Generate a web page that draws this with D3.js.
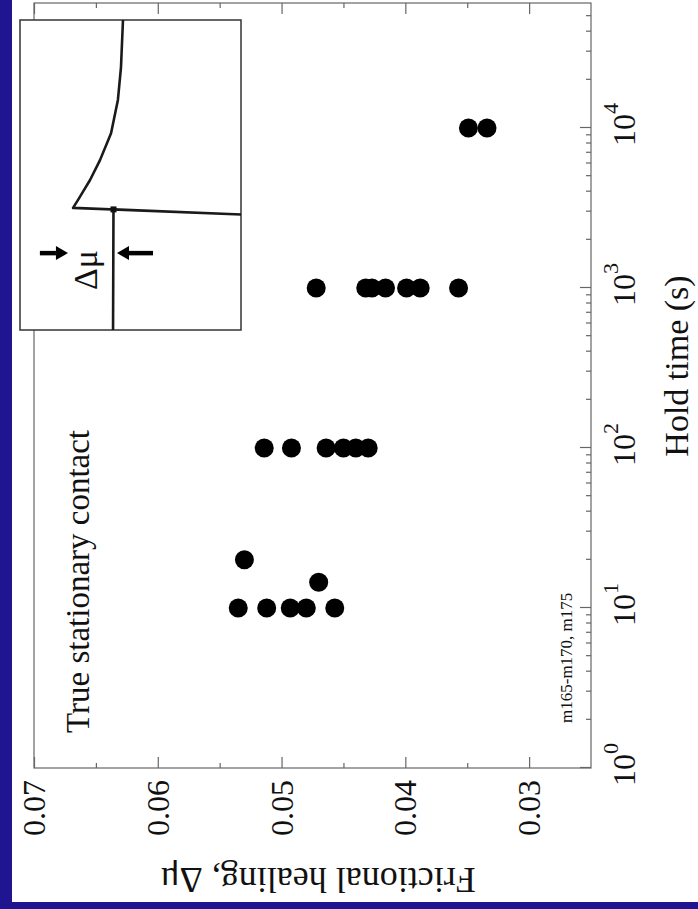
<!DOCTYPE html>
<html>
<head>
<meta charset="utf-8">
<script src="https://cdn.jsdelivr.net/npm/d3@7"></script>
<style>
  html, body { margin: 0; padding: 0; background: #fff; }
  svg { display: block; }
  svg text { font-family: "Liberation Serif", "Times New Roman", serif !important; fill: #111; }
</style>
</head>
<body>
<svg id="chart" width="698" height="909"></svg>
<script>
// Frictional healing after each hold (slide-hold-slide tests)
const holdTime = [10, 10, 10, 10, 10, 20, 14.5,
  100, 100, 100, 100, 100, 100,
  1000, 1000, 1000, 1000, 1000, 1000, 1000,
  10000, 10000];
const healing = [0.0535, 0.0512, 0.0493, 0.0480, 0.0457, 0.0530, 0.0470,
  0.0514, 0.0492, 0.0464, 0.0450, 0.0440, 0.0430,
  0.0472, 0.0432, 0.0427, 0.0416, 0.0399, 0.0388, 0.0357,
  0.0349, 0.0334];

const timeDecades = [1, 10, 100, 1000, 10000];
const decadeExponents = ["0", "1", "2", "3", "4"];
const healingTicks = [0.03, 0.04, 0.05, 0.06, 0.07];
const healingTickLabels = ["0.03", "0.04", "0.05", "0.06", "0.07"];
const healingMinorTicks = [0.035, 0.045, 0.055, 0.065];

// Inset: friction record through one hold (arbitrary units, 0-100)
const insetTime =     [0,    38.9, 37.2, 39.4, 41.9, 45.2, 48.4, 54.8, 63.5, 74.2, 84.8, 100];
const insetFriction = [57.9, 57.7, -2,   76.0, 73.8, 71.0, 68.3, 63.8, 58.8, 55.7, 54.3, 53.4];

const W = 698, H = 909;
const serif = '"Liberation Serif", "Times New Roman", serif';
const svg = d3.select("#chart");

// slide background edges
svg.append("rect").attr("x", 0).attr("y", 0).attr("width", 12).attr("height", H).attr("fill", "#1f1590");
svg.append("rect").attr("x", 0).attr("y", 902).attr("width", W).attr("height", 7).attr("fill", "#1f1590");

// The figure is laid out in its own frame and turned a quarter turn counter-clockwise
const g = svg.append("g").attr("transform", `translate(0,${H}) rotate(-90)`);

const pLeft = 141, pRight = 906, pTop = 34, pBottom = 591;
const x = d3.scaleLog().domain([1, 6e4]).range([pLeft, pLeft + 160 * Math.log10(6e4)]);
const y = d3.scaleLinear().domain([0.025, 0.07]).range([pBottom, pTop]);

const axisColor = "#666";

// frame
g.append("rect")
  .attr("x", pLeft).attr("y", pTop)
  .attr("width", pRight - pLeft).attr("height", pBottom - pTop)
  .attr("fill", "none").attr("stroke", axisColor).attr("stroke-width", 1.2);

// minor log ticks
const minorTimes = [];
for (let e = 0; e <= 4; e++) for (let m = 2; m <= 9; m++) {
  const v = m * Math.pow(10, e);
  if (v < 6e4) minorTimes.push(v);
}

const xAxis = g.append("g").attr("transform", `translate(0,${pBottom})`)
  .call(d3.axisBottom(x).tickValues(timeDecades).tickSizeInner(-11).tickSizeOuter(0).tickFormat(""));
xAxis.select(".domain").remove();
xAxis.selectAll(".tick line").attr("stroke", axisColor).attr("stroke-width", 1.2);
xAxis.selectAll(".tick text").each(function(d, i) {
  const t = d3.select(this);
  t.attr("y", 44).attr("dy", null).attr("x", 3)
    .attr("font-size", 32).attr("fill", "#111").attr("text-anchor", "middle")
    .style("font-family", serif);
  t.text(null);
  t.append("tspan").text("10");
  t.append("tspan").attr("dy", -17).attr("font-size", 22).text(decadeExponents[i]);
});

const xMinor = g.append("g").attr("transform", `translate(0,${pBottom})`)
  .call(d3.axisBottom(x).tickValues(minorTimes).tickSizeInner(-5).tickSizeOuter(0).tickFormat(""));
xMinor.select(".domain").remove();
xMinor.selectAll(".tick line").attr("stroke", axisColor).attr("stroke-width", 1.2);

// healing axis and its mirror on the far side
function healAxis(gen, at, labels) {
  const a = g.append("g").attr("transform", `translate(${at},0)`)
    .call(gen(y).tickValues(healingTicks).tickSizeInner(-11).tickSizeOuter(0).tickPadding(12)
      .tickFormat((d, i) => labels ? healingTickLabels[i] : ""));
  a.select(".domain").remove();
  a.selectAll(".tick line").attr("stroke", axisColor).attr("stroke-width", 1.2);
  a.selectAll(".tick text").attr("font-size", 32).attr("fill", "#111").attr("dy", "0.33em")
    .style("font-family", serif);
  const m = g.append("g").attr("transform", `translate(${at},0)`)
    .call(gen(y).tickValues(healingMinorTicks).tickSizeInner(-5).tickSizeOuter(0).tickFormat(""));
  m.select(".domain").remove();
  m.selectAll(".tick line").attr("stroke", axisColor).attr("stroke-width", 1.2);
}
healAxis(d3.axisLeft, pLeft, true);
healAxis(d3.axisRight, pRight, false);

// data points
g.append("g").selectAll("circle")
  .data(holdTime.map((t, i) => ({ t, h: healing[i] })))
  .join("circle")
  .attr("cx", d => x(d.t)).attr("cy", d => y(d.h))
  .attr("r", 9.5).attr("fill", "#000");

// axis titles
g.append("text")
  .attr("x", 543).attr("y", 688)
  .attr("text-anchor", "middle").attr("font-size", 34)
  .style("font-family", serif)
  .text("Hold time (s)");

g.append("text")
  .attr("transform", `translate(41,318) rotate(-90)`)
  .attr("text-anchor", "middle").attr("font-size", 36)
  .style("font-family", serif)
  .text("Frictional healing, Δμ");

// annotations
g.append("text").attr("x", 176).attr("y", 89).attr("font-size", 33)
  .style("font-family", serif)
  .text("True stationary contact");
g.append("text").attr("x", 186).attr("y", 572).attr("font-size", 17)
  .style("font-family", serif)
  .text("m165-m170, m175");

// inset
const ix = d3.scaleLinear().domain([0, 100]).range([579, 889]);
const iy = d3.scaleLinear().domain([0, 100]).range([241, 20]);
const inset = g.append("g");
inset.append("rect")
  .attr("x", ix(0)).attr("y", iy(100))
  .attr("width", ix(100) - ix(0)).attr("height", iy(0) - iy(100))
  .attr("fill", "#fff").attr("stroke", "#333").attr("stroke-width", 1.5);
inset.append("clipPath").attr("id", "insetClip")
  .append("rect")
  .attr("x", ix(0)).attr("y", iy(100))
  .attr("width", ix(100) - ix(0)).attr("height", iy(0) - iy(100));
inset.append("path")
  .attr("clip-path", "url(#insetClip)")
  .attr("d", d3.line().x((d, i) => ix(insetTime[i])).y((d, i) => iy(insetFriction[i]))(insetTime))
  .attr("fill", "none").attr("stroke", "#1a1a1a").attr("stroke-width", 2.6)
  .attr("stroke-linejoin", "round");
// hold start marker
inset.append("rect")
  .attr("x", ix(insetTime[1]) - 3).attr("y", iy(insetFriction[1]) - 3)
  .attr("width", 6).attr("height", 6).attr("fill", "#111");

// arrows bracketing the healing step
function arrow(t, from, to) {
  const x0 = ix(t), y0 = iy(from), y1 = iy(to);
  const dir = Math.sign(y1 - y0), head = 12, half = 7;
  inset.append("line")
    .attr("x1", x0).attr("x2", x0).attr("y1", y0).attr("y2", y1 - dir * head)
    .attr("stroke", "#000").attr("stroke-width", 4.5);
  inset.append("path")
    .attr("d", `M${x0 - half},${y1 - dir * head}L${x0 + half},${y1 - dir * head}L${x0},${y1}Z`)
    .attr("fill", "#000");
}
arrow(24.8, 91, 78.3);
arrow(24.8, 39.8, 56.1);

inset.append("text")
  .attr("x", ix(12.9)).attr("y", iy(65.2))
  .attr("font-size", 34)
  .style("font-family", serif)
  .text("Δμ");
</script>
</body>
</html>
